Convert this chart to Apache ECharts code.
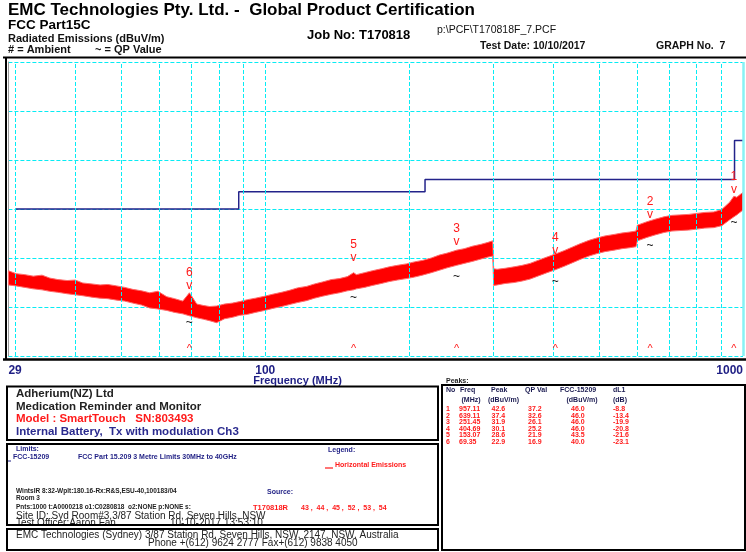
<!DOCTYPE html>
<html><head><meta charset="utf-8">
<script src="https://cdn.jsdelivr.net/npm/echarts@6/dist/echarts.min.js"></script>
<style>html,body{margin:0;padding:0;background:#fff}#c{width:746px;height:552px}</style>
</head><body><div id="c"></div>
<script>
// ---- axis ----
const X_MIN = 29, X_MAX = 1000, Y_MIN = 10, Y_MAX = 70, Y_STEP = 10;
const xTickLabels = [29, 100, 1000];
const gridFreqs = [30, 40, 50, 60, 70, 80, 90, 100, 200, 300, 400, 500, 600, 700, 800, 900];
const edgeFreqs = [1000];
// ---- limit (FCC-15209) ----
const limitFreq = [30, 88, 216, 960, 1000];
const limitLevel = [40, 43.5, 46, 54];
// ---- measured trace envelope (dBuV/m) ----
const traceFreq = [29, 30.1, 31.4, 32.7, 34.1, 35.4, 36.8, 38.5, 40, 41.5, 43.4, 45.1, 46.8, 48.9, 50.8, 52.8, 55.1, 57.3, 59.6, 62.2, 64.6, 67.2, 69.4, 71.9, 74.3, 76.5, 79.1, 82.2, 85.4, 88.4, 91.8, 95.4, 99.7, 103.6, 108.2, 112.4, 116.8, 122, 126.8, 131.7, 137.6, 143, 148.6, 153.1, 155.2, 161.3, 167.6, 175, 181.9, 189, 197.4, 205.1, 213.2, 222.6, 231.4, 240.4, 251.5, 260.9, 271.2, 283.1, 292.8, 299.3, 300.7, 305.8, 317.8, 331.9, 344.9, 358.4, 374.3, 388.9, 404.7, 422.2, 438.7, 455.9, 476.1, 494.8, 514.1, 537, 557.9, 579.8, 597, 601, 629.4, 639.1, 654.1, 683.1, 709.8, 737.7, 770.2, 800.4, 831.8, 868.6, 902.8, 937.9, 957.1, 970.2, 1000];
const traceLo = [24.5, 24.3, 24.0, 23.7, 23.5, 23.2, 23.0, 22.7, 22.5, 22.3, 22.0, 21.8, 21.7, 21.4, 21.2, 20.8, 20.4, 19.8, 19.6, 19.3, 18.9, 18.6, 18.2, 17.8, 17.5, 17.2, 16.8, 17.6, 17.9, 18.3, 18.5, 18.9, 19.3, 19.7, 20.1, 20.5, 20.9, 21.3, 21.8, 22.2, 22.6, 22.9, 23.3, 23.5, 23.7, 24.0, 24.4, 24.8, 25.2, 25.5, 25.8, 26.1, 26.5, 27.0, 27.5, 28.0, 28.5, 28.9, 29.3, 29.8, 30.2, 30.4, 24.4, 24.5, 24.8, 25.0, 25.3, 25.7, 26.4, 27.0, 27.6, 28.3, 29.0, 29.7, 30.4, 30.9, 31.3, 31.6, 31.9, 32.1, 32.3, 33.5, 34.2, 34.4, 34.7, 35.2, 35.5, 35.6, 35.7, 35.9, 36.1, 36.2, 36.6, 37.8, 38.4, 38.8, 39.8];
const traceHi = [27.4, 26.8, 26.6, 26.3, 26.5, 25.9, 25.6, 25.4, 25.5, 24.9, 24.7, 24.5, 24.6, 24.3, 24.0, 23.6, 23.3, 22.9, 23.2, 22.1, 21.7, 21.2, 22.9, 20.6, 20.3, 20.1, 20.2, 20.6, 20.8, 21.1, 21.5, 21.8, 22.2, 22.6, 23.0, 23.4, 23.9, 24.2, 24.7, 25.1, 25.6, 25.8, 26.2, 27.0, 26.6, 27.0, 27.4, 27.8, 28.2, 28.5, 28.8, 29.2, 29.5, 30.0, 30.6, 31.0, 31.6, 31.9, 32.4, 32.8, 33.2, 33.5, 27.8, 27.7, 27.9, 28.2, 28.5, 28.9, 29.6, 30.2, 30.8, 31.5, 32.2, 32.9, 33.6, 34.1, 34.5, 34.8, 35.1, 35.3, 35.5, 36.7, 37.4, 37.6, 37.9, 38.4, 38.7, 38.8, 38.9, 39.1, 39.3, 39.4, 39.9, 41.4, 42.6, 42.4, 43.4];
// ---- peaks table ----
const peakNo = [1, 2, 3, 4, 5, 6];
const peakFreq = [957.11, 639.11, 251.45, 404.69, 153.07, 69.35];
const peakVal = [42.6, 37.4, 31.9, 30.1, 28.6, 22.9];
const qpVal = [37.2, 32.6, 26.1, 25.2, 21.9, 16.9];
const peakLimit = [46.0, 46.0, 46.0, 46.0, 43.5, 40.0];
const peakDL1 = [-8.8, -13.4, -19.9, -20.8, -21.6, -23.1];

const F = '"Liberation Sans", Arial, sans-serif';
const NAVY = '#1e1e84';
const RED = '#ff1a1a';
const CYAN = '#08ecf4';

const g = [];
function txt(x, y, s, size, color, weight, align, z) {
  g.push({type: 'text', x: x, y: y, silent: true, z: z || 10,
    style: {text: s, font: (weight || 'normal') + ' ' + size + 'px ' + F, fill: color,
      textAlign: align || 'left', align: align || 'left', textVerticalAlign: 'middle', verticalAlign: 'middle'}});
}
function box(x, y, w, h, lw, z) {
  g.push({type: 'rect', silent: true, z: z || 12, shape: {x: x, y: y, width: w, height: h},
    style: {fill: 'none', stroke: '#000', lineWidth: lw}});
}
function hline(x1, x2, y, lw, color, z) {
  g.push({type: 'line', silent: true, z: z || 12, shape: {x1: x1, y1: y, x2: x2, y2: y}, style: {stroke: color, lineWidth: lw}});
}
function vline(x, y1, y2, lw, color, z) {
  g.push({type: 'line', silent: true, z: z || 12, shape: {x1: x, y1: y1, x2: x, y2: y2}, style: {stroke: color, lineWidth: lw}});
}

// header
txt(8, 10.5, 'EMC Technologies Pty. Ltd. -  Global Product Certification', 17, '#000', 'bold');
txt(8, 25.5, 'FCC Part15C', 13.5, '#000', 'bold');
txt(8, 38.5, 'Radiated Emissions (dBuV/m)', 11, '#111', 'bold');
txt(8, 50, '# = Ambient', 11, '#111', 'bold');
txt(95, 50, '~ = QP Value', 11, '#111', 'bold');
txt(307, 35, 'Job No: T170818', 13, '#000', 'bold');
txt(437, 30.5, 'p:\\PCF\\T170818F_7.PCF', 10.5, '#111', 'normal');
txt(480, 46, 'Test Date: 10/10/2017', 10.5, '#111', 'bold');
txt(656, 46, 'GRAPH No.  7', 10.5, '#111', 'bold');

// plot frame
hline(3, 746, 57.5, 2, '#000');
vline(6, 57, 360, 2, '#000');
hline(3, 746, 359.5, 2.5, '#000');

// axis name
txt(297.5, 381, 'Frequency (MHz)', 11, NAVY, 'bold', 'center');

// panel A
txt(16, 394, 'Adherium(NZ) Ltd', 11.5, '#222', 'bold');
txt(16, 407, 'Medication Reminder and Monitor', 11.5, '#222', 'bold');
txt(16, 419, 'Model : SmartTouch   SN:803493', 11.5, RED, 'bold');
txt(16, 431.5, 'Internal Battery,  Tx with modulation Ch3', 11.5, '#2a2a8e', 'bold');
box(7, 386.5, 431, 53.5, 2);

// panel B
txt(16, 449, 'Limits:', 7, NAVY, 'bold');
hline(8, 11, 461, 1, NAVY, 10);
txt(13, 457, 'FCC-15209', 7, NAVY, 'bold');
txt(78, 457, 'FCC Part 15.209 3 Metre Limits 30MHz to 40GHz', 7, NAVY, 'bold');
txt(328, 450, 'Legend:', 7, NAVY, 'bold');
hline(325, 333, 468, 1.2, RED, 10);
txt(335, 465, 'Horizontal Emissions', 7, RED, 'bold');
txt(16, 491, 'WintsIR 8:32-Wplt:180.16-Rx:R&S,ESU-40,100183/04', 6.5, '#222', 'bold');
txt(16, 498, 'Room 3', 6.5, '#222', 'bold');
txt(16, 507, 'Pnts:1000 t:A0000218 o1:C0280818  o2:NONE p:NONE s:', 6.5, '#222', 'bold');
txt(267, 492, 'Source:', 7, NAVY, 'bold');
txt(253, 508, 'T170818R', 7.5, RED, 'bold');
txt(301, 508, '43 ,  44 ,  45 ,  52 ,  53 ,  54', 7, RED, 'bold');
txt(16, 516, 'Site ID: Syd Room#3,3/87 Station Rd, Seven Hills, NSW', 10, '#222', 'normal');
txt(16, 523.5, 'Test Officer:Aaron Fan', 10, '#222', 'normal');
txt(170, 523.5, '10-10-2017 13:53:10', 10, '#222', 'normal');
g.push({type: 'rect', silent: true, z: 11, shape: {x: 0, y: 526, width: 440, height: 3}, style: {fill: '#fff'}});
box(7, 444, 431, 81, 2);

// panel C
txt(16, 535, 'EMC Technologies (Sydney)', 10, '#222', 'normal');
txt(145, 535, '3/87 Station Rd, Seven Hills, NSW, 2147, NSW, Australia', 10, '#222', 'normal');
txt(148, 543, 'Phone +(612) 9624 2777 Fax+(612) 9838 4050', 10, '#222', 'normal');
box(7, 529, 431, 21, 2);

// peaks table
txt(446, 381, 'Peaks:', 7, '#222', 'bold');
box(442, 385, 303, 165, 2);
const hdrC = '#1a1a50';
txt(446, 390.5, 'No', 7, hdrC, 'bold');
txt(460, 390.5, 'Freq', 7, hdrC, 'bold');
txt(491, 390.5, 'Peak', 7, hdrC, 'bold');
txt(525, 390.5, 'QP Val', 7, hdrC, 'bold');
txt(560, 390.5, 'FCC-15209', 7, hdrC, 'bold');
txt(613, 390.5, 'dL1', 7, hdrC, 'bold');
txt(461.5, 400, '(MHz)', 7, hdrC, 'bold');
txt(488, 400, '(dBuV/m)', 7, hdrC, 'bold');
txt(566.5, 400, '(dBuV/m)', 7, hdrC, 'bold');
txt(613, 400, '(dB)', 7, hdrC, 'bold');
for (let i = 0; i < peakNo.length; i++) {
  const y = 409.3 + i * 6.55;
  txt(446, y, String(peakNo[i]), 7, RED, 'bold');
  txt(459, y, peakFreq[i].toFixed(2), 7, RED, 'bold');
  txt(491.5, y, peakVal[i].toFixed(1), 7, RED, 'bold');
  txt(528, y, qpVal[i].toFixed(1), 7, RED, 'bold');
  txt(571, y, peakLimit[i].toFixed(1), 7, RED, 'bold');
  txt(613, y, peakDL1[i].toFixed(1), 7, RED, 'bold');
}

// limit line points (horizontal segments)
const limitPts = [];
for (let i = 0; i < limitLevel.length; i++) {
  limitPts.push([limitFreq[i], limitLevel[i]]);
  limitPts.push([limitFreq[i + 1], limitLevel[i]]);
}

const chart = echarts.init(document.getElementById('c'), null, {renderer: 'canvas'});
chart.setOption({
  animation: false,
  backgroundColor: '#fff',
  grid: {left: 8.4, right: 1.7, top: 62, bottom: 196, containLabel: false},
  xAxis: {
    type: 'log', logBase: 10, min: X_MIN, max: X_MAX,
    axisLine: {show: false}, axisTick: {show: false}, splitLine: {show: false},
    axisLabel: {show: true, margin: 9, fontSize: 12, fontWeight: 'bold', color: NAVY, fontFamily: F,
      showMinLabel: true, showMaxLabel: true, alignMinLabel: 'left', alignMaxLabel: 'right',
      formatter: function (v) { const r = Math.round(v); return xTickLabels.indexOf(r) >= 0 ? String(r) : ''; }}
  },
  yAxis: {
    type: 'value', min: Y_MIN, max: Y_MAX, interval: Y_STEP,
    axisLabel: {show: false}, axisTick: {show: false},
    axisLine: {show: true, lineStyle: {color: '#9a9a9a', width: 1}},
    splitLine: {show: true, lineStyle: {color: CYAN, type: [4, 2], width: 1}}
  },
  graphic: g,
  series: [
    {
      type: 'line', z: 1, silent: true, symbol: 'none',
      data: gridFreqs.map(f => [f, Y_MIN]), lineStyle: {opacity: 0},
      markLine: {
        silent: true, symbol: ['none', 'none'], label: {show: false},
        lineStyle: {color: CYAN, type: [4, 2], width: 1},
        data: gridFreqs.map(f => ({xAxis: f})).concat(
          edgeFreqs.map(f => ({xAxis: f, lineStyle: {type: 'solid', width: 2.5, color: '#86f2f4'}})))
      }
    },
    {
      type: 'custom', z: 3, silent: true, coordinateSystem: 'cartesian2d',
      data: traceFreq.map((f, i) => [f, traceLo[i], traceHi[i]]),
      encode: {x: 0, y: [1, 2]},
      renderItem: function (params, api) {
        if (params.dataIndex !== 0) return null;
        const pts = [];
        for (let i = 0; i < traceFreq.length; i++) pts.push(api.coord([traceFreq[i], traceHi[i]]));
        for (let i = traceFreq.length - 1; i >= 0; i--) pts.push(api.coord([traceFreq[i], traceLo[i]]));
        return {type: 'polygon', shape: {points: pts}, style: {fill: '#ff0000', stroke: '#ff6a6a', lineWidth: 1}};
      }
    },
    {
      type: 'line', z: 4, silent: true, symbol: 'none',
      data: limitPts, lineStyle: {color: '#23238a', width: 1.5}
    },
    {
      type: 'custom', z: 5, silent: true, coordinateSystem: 'cartesian2d',
      data: peakFreq.map((f, i) => [f, peakVal[i], qpVal[i], peakNo[i]]),
      encode: {x: 0, y: 1},
      renderItem: function (params, api) {
        const f = api.value(0), pk = api.value(1), qp = api.value(2), no = api.value(3);
        const p = api.coord([f, pk]), q = api.coord([f, qp]), b = api.coord([f, Y_MIN]);
        const st = (t, c, s) => ({text: t, fill: c, font: s + 'px ' + F, textAlign: 'center', align: 'center', textVerticalAlign: 'middle', verticalAlign: 'middle'});
        return {type: 'group', children: [
          {type: 'text', x: p[0], y: p[1] - 20, style: st(String(no), RED, 12)},
          {type: 'text', x: p[0], y: p[1] - 7, style: st('v', RED, 12)},
          {type: 'text', x: q[0], y: q[1], style: st('~', '#111', 12)},
          {type: 'text', x: b[0], y: b[1] - 7, style: st('^', RED, 11)}
        ]};
      }
    }
  ]
});
</script></body></html>
